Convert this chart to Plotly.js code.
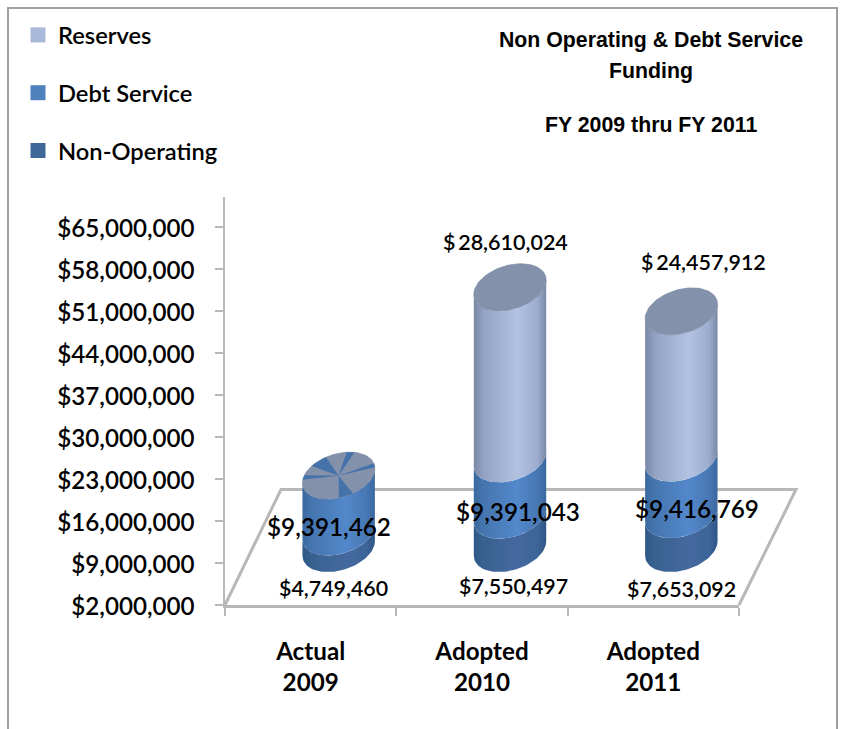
<!DOCTYPE html>
<html>
<head>
<meta charset="utf-8">
<script src="https://cdn.plot.ly/plotly-3.0.1.min.js"></script>
<style>html,body{margin:0;padding:0;background:#fff;overflow:hidden}</style>
</head>
<body>
<div id="chart" style="width:841px;height:729px"></div>
<script>
// ---- data ----
const categories = ["Actual<br>2009", "Adopted<br>2010", "Adopted<br>2011"];
const nonOperating = [4749460, 7550497, 7653092];
const debtService = [9391462, 9391043, 9416769];
const reserves = [0, 28610024, 24457912];
const seriesNames = ["Reserves", "Debt Service", "Non-Operating"];
const yTicks = [2000000, 9000000, 16000000, 23000000, 30000000, 37000000, 44000000, 51000000, 58000000, 65000000];
const titleLines = ["Non Operating & Debt Service", "Funding", "FY 2009 thru FY 2011"];

// ---- page geometry ----
const W = 841, H = 729;
const plotL = 225, plotR = 739, plotT = 197, plotB = 605;
const yMin = 2000000, yMax = 70000000;
const pxPerCat = (plotR - plotL) / 3;
const pxPerVal = (plotB - plotT) / (yMax - yMin);
const depthDx = 28, depthDy = 56.5;      // cylinders stand in the middle of the floor
const rx = 34.5, skew = 11, ry = 23.5;   // sheared ellipse of a cylinder section, px
const fx = px => px / W, fy = py => 1 - py / H;

const dx = rx / pxPerCat, dk = skew / pxPerCat, dy = ry / pxPerVal;
const t0 = Math.atan2(skew, rx);
function rim(i, v, t) { return [i + dx * Math.cos(t) + dk * Math.sin(t), v - 0 + dy * Math.sin(t)]; }
function arc(i, v, a, b, n) {
  const xs = [], ys = [];
  for (let j = 0; j <= n; j++) { const p = rim(i, v, a + (b - a) * j / n); xs.push(p[0]); ys.push(p[1]); }
  return [xs, ys];
}
function segment(i, lo, hi, scale) {
  const a = arc(i, lo, t0 + Math.PI, t0 + 2 * Math.PI, 48);
  const b = arc(i, hi, t0 + 2 * Math.PI, t0 + Math.PI, 48);
  return {
    type: "scatter", mode: "lines", xaxis: "x2", yaxis: "y2", showlegend: false, hoverinfo: "skip",
    x: a[0].concat(b[0]), y: a[1].concat(b[1]), line: { width: 0 }, fill: "toself",
    fillgradient: { type: "horizontal", colorscale: scale }
  };
}
function cap(i, v, color) {
  const a = arc(i, v, 0, 2 * Math.PI, 96);
  return { type: "scatter", mode: "lines", xaxis: "x2", yaxis: "y2", showlegend: false, hoverinfo: "skip",
    x: a[0], y: a[1], line: { width: 0.6, color: "#76849f" }, fill: "toself", fillcolor: color };
}
function wedge(i, v, a0, a1, color) {
  const a = arc(i, v, a0 * Math.PI / 180, a1 * Math.PI / 180, 12);
  return { type: "scatter", mode: "lines", xaxis: "x2", yaxis: "y2", showlegend: false, hoverinfo: "skip",
    x: [i].concat(a[0], [i]), y: [v].concat(a[1], [v]), line: { width: 0 }, fill: "toself", fillcolor: color };
}

const scaleNon = [[0, "#2f5687"], [0.12, "#38618f"], [0.6, "#44699f"], [0.88, "#3d6597"], [1, "#2f5687"]];
const scaleDebt = [[0, "#3a689f"], [0.12, "#4575ae"], [0.6, "#5388cb"], [0.88, "#4878b4"], [1, "#3a689f"]];
const scaleRes = [[0, "#7a88a6"], [0.14, "#93a3c3"], [0.6, "#b2c3e2"], [0.88, "#9cacce"], [1, "#7a88a6"]];
const capWedges = [[128, 156], [82, 95], [20, 32], [288, 311], [178, 190]];

const traces = [];
// legend entries
[["#a9b9d9", 0], ["#4f81bd", 1], ["#3f6797", 2]].forEach(([c, k]) => {
  traces.push({ type: "scatter", mode: "markers", x: categories, y: [null, null, null], name: seriesNames[k],
    legendgroup: seriesNames[k], marker: { symbol: "square", size: 15, color: c }, hoverinfo: "skip" });
});
categories.forEach((c, i) => {
  const a = yMin, b = a + nonOperating[i] - yMin, d = b + debtService[i], r = d + reserves[i];
  traces.push(segment(i, a, b, scaleNon));
  traces.push(segment(i, b, d, scaleDebt));
  if (reserves[i] > 0) traces.push(segment(i, d, r, scaleRes));
  traces.push(cap(i, r, "#8491ab"));
  if (reserves[i] === 0) capWedges.forEach(w => traces.push(wedge(i, r, w[0], w[1], "#4573a9")));
});

const fmt = v => "$" + v.toLocaleString("en-US");
const fmtS = v => "$\u2009" + v.toLocaleString("en-US");
const labelFont = "Lato, sans-serif";
function label(text, i, xs, ys, size) {
  return { text: text, xref: "x2", yref: "y", x: i, y: yMin, xshift: xs, yshift: ys, showarrow: false,
    xanchor: "center", yanchor: "middle", font: { family: labelFont, size: size, color: "#000", weight: 600 } };
}
const nonX = [-5, 3, 0], nonY = [17, 19, 16];
const debtX = [-10, 8, 16], debtY = [79, 94, 97];
const resX = [0, -5, 22], resY = [0, 363, 343];
const annotations = [];
categories.forEach((c, i) => {
  annotations.push(label(fmt(nonOperating[i]), i, nonX[i], nonY[i], 21.4));
  annotations.push(label(fmt(debtService[i]), i, debtX[i], debtY[i], 24.3));
  if (reserves[i] > 0) annotations.push(label(fmtS(reserves[i]), i, resX[i], resY[i], 21.5));
});
const titleFont = { family: "Liberation Sans, Arial, sans-serif", size: 21.3, color: "#000", weight: 700 };
function titleLine(text, py) {
  return { text: text, xref: "paper", yref: "paper", x: fx(651), y: fy(py), showarrow: false, xanchor: "center", yanchor: "middle", font: titleFont };
}
annotations.push(titleLine(titleLines[1], 71), titleLine(titleLines[2], 125));

const gray = "#b8b8b8";
const layout = {
  width: W, height: H, margin: { l: 0, r: 0, t: 0, b: 0 }, paper_bgcolor: "#fff", plot_bgcolor: "rgba(0,0,0,0)",
  font: { family: labelFont, color: "#000" },
  title: { text: titleLines[0], x: fx(651), xanchor: "center", xref: "paper", y: fy(40), yanchor: "middle", font: titleFont },
  showlegend: true,
  legend: { x: fx(18), xanchor: "left", y: fy(13), yanchor: "top", bgcolor: "rgba(0,0,0,0)", tracegroupgap: 24,
    font: { family: labelFont, size: 23.7, color: "#000", weight: 600 }, traceorder: "grouped" },
  xaxis: { type: "category", categoryorder: "array", categoryarray: categories, domain: [fx(plotL), fx(plotR)], range: [-0.5, 2.5],
    anchor: "y", tickson: "boundaries", ticks: "outside", ticklen: 8, tickwidth: 2, tickcolor: gray,
    showline: true, linecolor: gray, linewidth: 2.5, showgrid: false, zeroline: false, ticklabelstandoff: 23,
    tickfont: { family: labelFont, size: 24.2, color: "#000", weight: 700 } },
  yaxis: { type: "linear", domain: [fy(plotB), fy(plotT)], range: [yMin, yMax], anchor: "x", tickvals: yTicks, tickformat: "$,",
    ticks: "outside", ticklen: 8, tickwidth: 2, tickcolor: gray, showline: true, linecolor: gray, linewidth: 2.5, showgrid: false,
    zeroline: false, ticklabelstandoff: 15, ticklabelshift: 2, tickfont: { family: labelFont, size: 24.2, color: "#000", weight: 600 } },
  xaxis2: { type: "linear", overlaying: "x", anchor: "y2", domain: [fx(plotL), fx(plotR)], visible: false,
    range: [-0.5 - depthDx / pxPerCat, 2.5 - depthDx / pxPerCat] },
  yaxis2: { type: "linear", overlaying: "y", anchor: "x2", domain: [fy(plotB), fy(plotT)], visible: false,
    range: [yMin - depthDy / pxPerVal, yMax - depthDy / pxPerVal] },
  annotations: annotations,
  shapes: [
    { type: "rect", xref: "paper", yref: "paper", x0: fx(8), x1: fx(837), y0: fy(760), y1: fy(8), line: { color: "#a0a0a0", width: 2 }, layer: "below" },
    { type: "path", xref: "paper", yref: "paper", layer: "below", line: { color: gray, width: 3 },
      path: `M${fx(plotL)},${fy(plotB)} L${fx(281)},${fy(489.5)} L${fx(796)},${fy(489.5)} L${fx(plotR)},${fy(plotB)}` }
  ]
};
Plotly.newPlot("chart", traces, layout, { displayModeBar: false, staticPlot: true });
</script>
</body>
</html>
